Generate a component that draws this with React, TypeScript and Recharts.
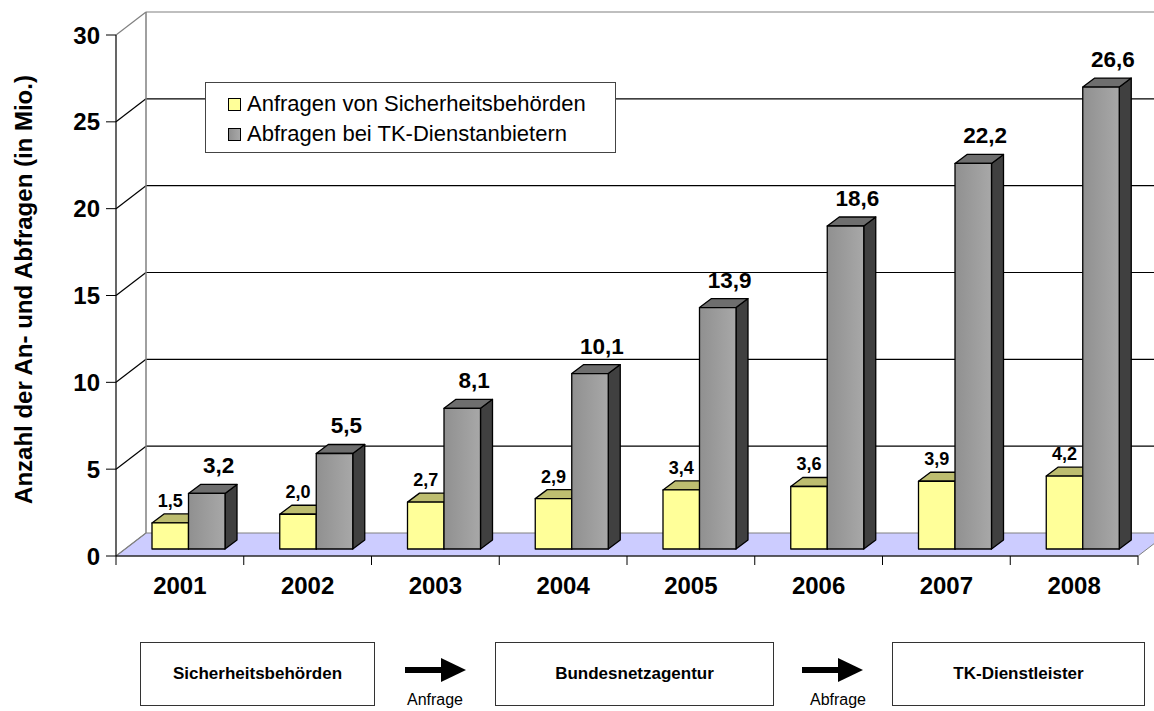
import { Bar, BarChart, CartesianGrid, LabelList, XAxis, YAxis } from 'recharts';

const years = ['2001', '2002', '2003', '2004', '2005', '2006', '2007', '2008'];
const anfragen = [1.5, 2.0, 2.7, 2.9, 3.4, 3.6, 3.9, 4.2];
const abfragen = [3.2, 5.5, 8.1, 10.1, 13.9, 18.6, 22.2, 26.6];
const yTicks = [0, 5, 10, 15, 20, 25, 30];
const seriesNames = ['Anfragen von Sicherheitsbehörden', 'Abfragen bei TK-Dienstanbietern'];
const flowBoxes = ['Sicherheitsbehörden', 'Bundesnetzagentur', 'TK-Dienstleister'];
const flowSteps = ['Anfrage', 'Abfrage'];

const data = years.map((year, i) => ({ year, anfragen: anfragen[i], abfragen: abfragen[i] }));

const FONT = '"Liberation Sans", Arial, sans-serif';

// 3D look: the back wall sits up-right of the front plane, bars stand in the middle of the floor
const WALL_DX = 30;
const WALL_DY = 23;
const BAR_SHIFT_X = 9;
const BAR_SHIFT_Y = 7;
const DEPTH_X = 12;
const DEPTH_Y = 9;

const fmt = (v: number) => v.toFixed(1).replace('.', ',');

function Block(props: any) {
  const { x, y, width, height, front, top, side } = props;
  if (x == null || width == null || height == null) return null;
  const fx = x + BAR_SHIFT_X;
  const fy = y - BAR_SHIFT_Y;
  const w = width;
  const h = height;
  return (
    <g stroke="#000" strokeWidth={1.3} strokeLinejoin="round">
      <polygon
        points={`${fx + w},${fy} ${fx + w + DEPTH_X},${fy - DEPTH_Y} ${fx + w + DEPTH_X},${fy + h - DEPTH_Y} ${fx + w},${fy + h}`}
        fill={side}
      />
      <polygon
        points={`${fx},${fy} ${fx + DEPTH_X},${fy - DEPTH_Y} ${fx + w + DEPTH_X},${fy - DEPTH_Y} ${fx + w},${fy}`}
        fill={top}
      />
      <rect x={fx} y={fy} width={w} height={h} fill={front} />
    </g>
  );
}

function SmallLabel(props: any) {
  const { x, y, width, value } = props;
  return (
    <text
      x={x + BAR_SHIFT_X + width / 2}
      y={y - BAR_SHIFT_Y - 16}
      textAnchor="middle"
      fontFamily={FONT}
      fontWeight="bold"
      fontSize={18}
      fill="#000"
    >
      {fmt(value)}
    </text>
  );
}

function BigLabel(props: any) {
  const { x, y, width, value } = props;
  return (
    <text
      x={x + BAR_SHIFT_X + DEPTH_X + width / 2}
      y={y - BAR_SHIFT_Y - 20}
      textAnchor="middle"
      fontFamily={FONT}
      fontWeight="bold"
      fontSize={22.5}
      fill="#000"
    >
      {fmt(value)}
    </text>
  );
}

function WallLine(props: any) {
  const { x1, x2, y1, y, height, index } = props;
  const bx1 = x1 + WALL_DX;
  const by = y1 - WALL_DY;
  const isFloor = y != null && height != null ? Math.abs(y1 - (y + height)) < 1 : index === 0;
  const isTop = y != null ? Math.abs(y1 - y) < 1 : index === yTicks.length - 1;
  const edge = isFloor || isTop ? '#808080' : '#000';
  return (
    <g key={`wall-${index}`}>
      {isFloor && (
        <polygon
          points={`${x1},${y1} ${x2},${y1} ${x2 + WALL_DX},${by} ${bx1},${by}`}
          fill="#CCCCFF"
          stroke="#808080"
          strokeWidth={1}
        />
      )}
      {isTop && y != null && height != null && (
        <line x1={bx1} y1={by} x2={bx1} y2={by + height} stroke="#808080" strokeWidth={1.5} />
      )}
      <line x1={x1} y1={y1} x2={bx1} y2={by} stroke={edge} strokeWidth={1.2} />
      {!isFloor && <line x1={bx1} y1={by} x2={x2 + WALL_DX} y2={by} stroke={edge} strokeWidth={1.2} />}
    </g>
  );
}

function YearTick(props: any) {
  const { x, y, payload, index, visibleTicksCount, width } = props;
  const band = width && visibleTicksCount ? width / visibleTicksCount : (payload?.offset ?? 0) * 2;
  const axisY = y - 9;
  return (
    <g>
      <line x1={x - band / 2} y1={axisY} x2={x - band / 2} y2={axisY + 9} stroke="#000" />
      {index === visibleTicksCount - 1 && (
        <line x1={x + band / 2} y1={axisY} x2={x + band / 2} y2={axisY + 9} stroke="#000" />
      )}
      <text x={x} y={axisY + 38} textAnchor="middle" fontFamily={FONT} fontWeight="bold" fontSize={24} fill="#000">
        {payload.value}
      </text>
    </g>
  );
}

function AxisTitle(props: any) {
  const vb = props.viewBox || {};
  const cy = (vb.y ?? 35) + (vb.height ?? 521) / 2 - 6;
  const bx = 32;
  return (
    <text
      x={bx}
      y={cy}
      transform={`rotate(-90 ${bx} ${cy})`}
      textAnchor="middle"
      fontFamily={FONT}
      fontWeight="bold"
      fontSize={24}
      fill="#000"
    >
      Anzahl der An- und Abfragen (in Mio.)
    </text>
  );
}

const boxStyle = {
  position: 'absolute' as const,
  top: 642,
  height: 62,
  border: '1px solid #333',
  background: '#fff',
  display: 'flex',
  alignItems: 'center',
  justifyContent: 'center',
  fontFamily: FONT,
  fontWeight: 'bold' as const,
  fontSize: 17,
  color: '#000',
};

export default function App() {
  const boxLeft = [140, 495, 892];
  const boxWidth = [233, 277, 251];
  const arrowLeft = [405, 802];
  return (
    <div
      style={{
        position: 'absolute',
        left: 0,
        top: 0,
        width: 1154,
        height: 711,
        overflow: 'hidden',
        background: '#fff',
      }}
    >
      <BarChart
        width={1154}
        height={711}
        data={data}
        margin={{ top: 35, right: 16, left: 0, bottom: 115 }}
        barSize={36.5}
        barGap={0}
      >
        <defs>
          <linearGradient id="grayFront" x1="0" y1="0" x2="1" y2="0">
            <stop offset="0%" stopColor="#909090" />
            <stop offset="100%" stopColor="#A8A8A8" />
          </linearGradient>
        </defs>
        <CartesianGrid vertical={false} horizontal={(p: any) => <WallLine {...p} />} />
        <XAxis
          dataKey="year"
          height={40}
          axisLine={{ stroke: '#000', strokeWidth: 1.2 }}
          tickLine={false}
          tickSize={9}
          tickMargin={0}
          interval={0}
          tick={(p: any) => <YearTick {...p} />}
        />
        <YAxis
          width={116}
          domain={[0, 30]}
          ticks={yTicks}
          interval={0}
          axisLine={{ stroke: '#000', strokeWidth: 1.2 }}
          tickLine={{ stroke: '#000' }}
          tickSize={10}
          tickMargin={6}
          tick={{ fontFamily: FONT, fontWeight: 'bold', fontSize: 24, fill: '#000' }}
          label={(p: any) => <AxisTitle {...p} />}
        />
        <Bar
          dataKey="anfragen"
          name={seriesNames[0]}
          isAnimationActive={false}
          shape={(p: any) => <Block {...p} front="#FFFF99" top="#BDBD70" side="#80803F" />}
        >
          <LabelList dataKey="anfragen" content={(p: any) => <SmallLabel {...p} />} />
        </Bar>
        <Bar
          dataKey="abfragen"
          name={seriesNames[1]}
          isAnimationActive={false}
          shape={(p: any) => <Block {...p} front="url(#grayFront)" top="#6E6E6E" side="#404040" />}
        >
          <LabelList dataKey="abfragen" content={(p: any) => <BigLabel {...p} />} />
        </Bar>
      </BarChart>

      <div
        style={{
          position: 'absolute',
          left: 205,
          top: 82,
          width: 409,
          height: 69,
          border: '1px solid #444',
          background: '#fff',
          fontFamily: FONT,
          fontSize: 22,
          color: '#000',
        }}
      >
        {seriesNames.map((name, i) => (
          <div
            key={name}
            style={{ position: 'absolute', left: 22, top: 8 + i * 30, height: 26, display: 'flex', alignItems: 'center' }}
          >
            <span
              style={{
                display: 'inline-block',
                width: 11,
                height: 11,
                border: '1px solid #000',
                background: i === 0 ? '#FFFF99' : 'linear-gradient(90deg, #909090, #A8A8A8)',
                marginRight: 6,
              }}
            />
            <span style={{ whiteSpace: 'nowrap' }}>{name}</span>
          </div>
        ))}
      </div>

      {flowBoxes.map((name, i) => (
        <div key={name} style={{ ...boxStyle, left: boxLeft[i], width: boxWidth[i] }}>
          {name}
        </div>
      ))}
      {flowSteps.map((step, i) => (
        <div key={step}>
          <svg
            width={62}
            height={26}
            style={{ position: 'absolute', left: arrowLeft[i], top: 657 }}
          >
            <rect x={0} y={10} width={38} height={6} fill="#000" />
            <polygon points="36,1 61,13 36,25" fill="#000" />
          </svg>
          <div
            style={{
              position: 'absolute',
              left: arrowLeft[i] - 20 + (i === 1 ? 6 : 0),
              width: 100,
              top: 691,
              lineHeight: '18px',
              textAlign: 'center',
              fontFamily: FONT,
              fontSize: 16,
              color: '#000',
            }}
          >
            {step}
          </div>
        </div>
      ))}
    </div>
  );
}
